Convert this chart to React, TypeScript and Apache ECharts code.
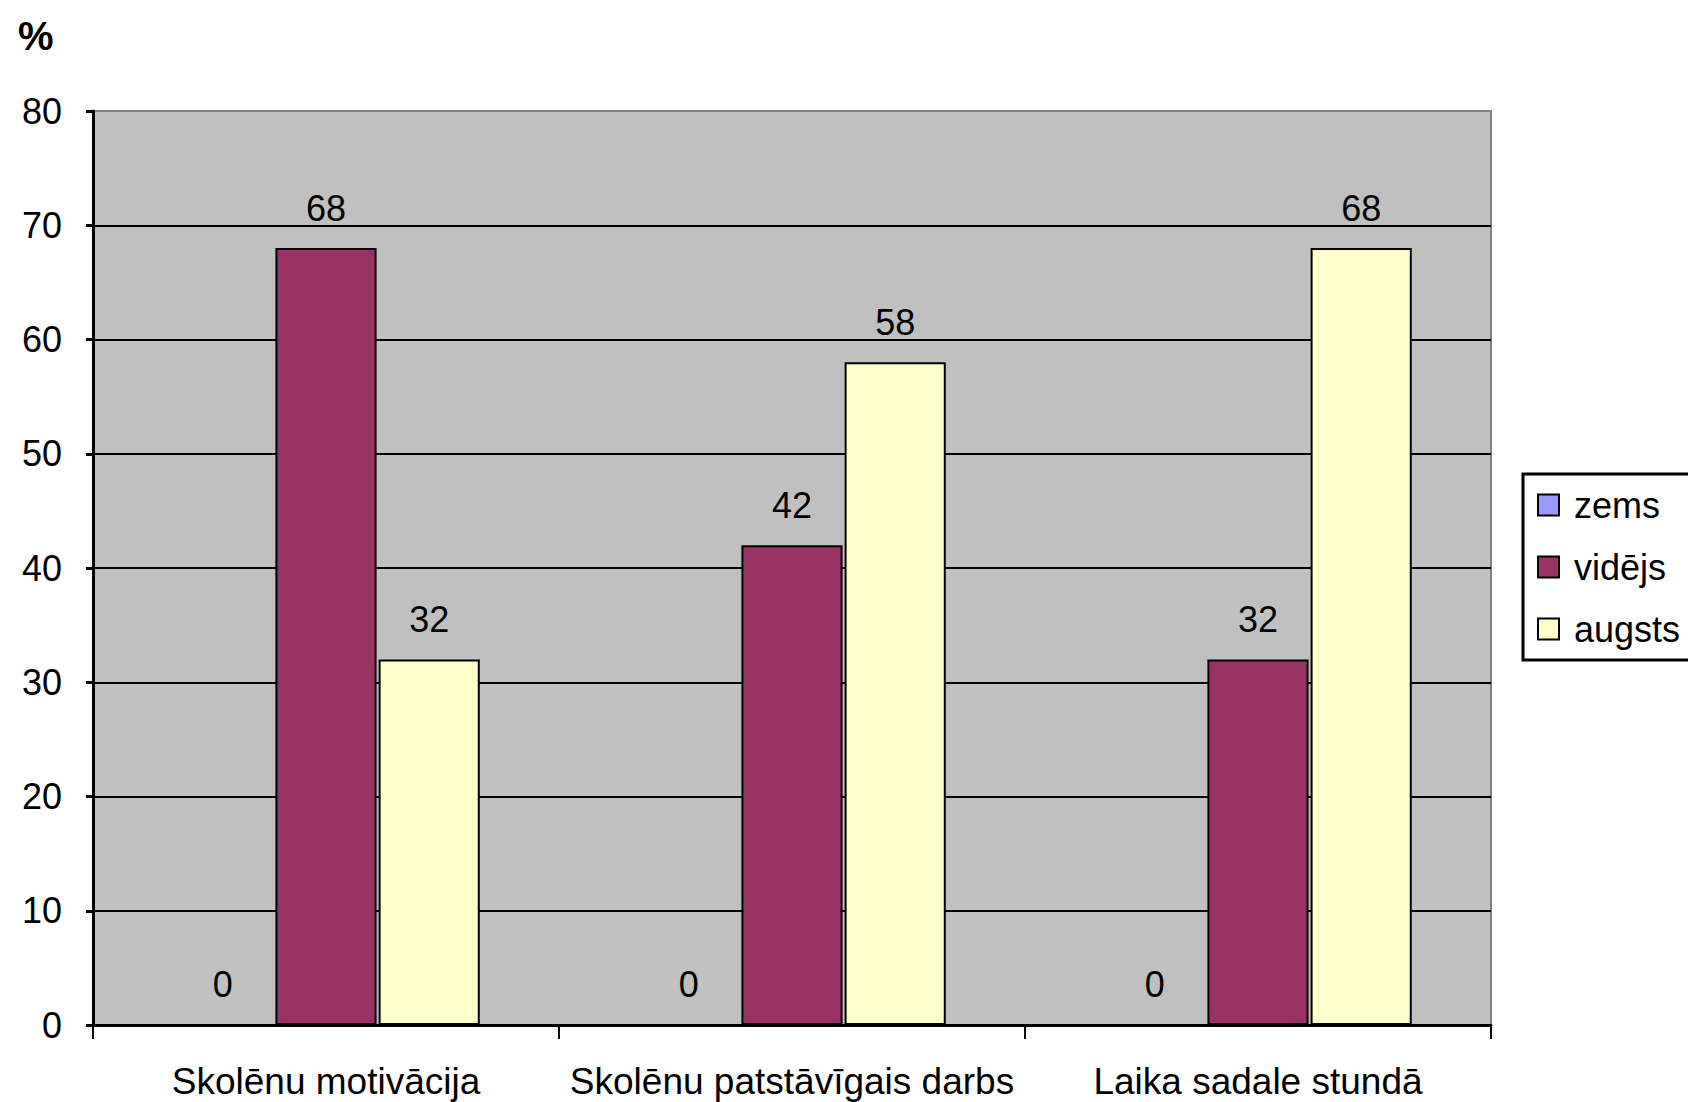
import React, { useEffect, useRef } from "react";
import * as echarts from "echarts";

const categories = ["Skolēnu motivācija", "Skolēnu patstāvīgais darbs", "Laika sadale stundā"];
const seriesNames = ["zems", "vidējs", "augsts"];
const zemsValues = [0, 0, 0];
const videjsValues = [68, 42, 32];
const augstsValues = [32, 58, 68];
const seriesColors = ["#9999FF", "#993366", "#FFFFCC"];
const yMin = 0;
const yMax = 80;
const yInterval = 10;

const FONT = "'Liberation Sans', Arial, sans-serif";

export default function App() {
  const ref = useRef<HTMLDivElement>(null);
  useEffect(() => {
    if (!ref.current) return;
    const chart = echarts.init(ref.current, null, { renderer: "svg" });
    const values = [zemsValues, videjsValues, augstsValues];
    const nLines = (yMax - yMin) / yInterval + 1;
    const splitColors: string[] = [];
    for (let i = 0; i < nLines; i++) splitColors.push(i === nLines - 1 ? "#808080" : "#000000");
    chart.setOption({
      animation: false,
      backgroundColor: "#ffffff",
      textStyle: { fontFamily: FONT },
      graphic: [
        {
          type: "text",
          left: 18,
          top: 16,
          style: { text: "%", fontSize: 40, fontWeight: "bold", fill: "#000", fontFamily: FONT },
        },
      ],
      legend: {
        orient: "vertical",
        left: 1523,
        top: 474,
        padding: [13, 20, 13, 14],
        borderColor: "#000",
        borderWidth: 3,
        backgroundColor: "#fff",
        itemWidth: 21,
        itemHeight: 21,
        itemGap: 26,
        icon: "rect",
        textStyle: { fontSize: 36, color: "#000", fontFamily: FONT, padding: [0, 0, 0, 10] },
        data: seriesNames.map((n, i) => ({
          name: n,
          itemStyle: { color: seriesColors[i], borderColor: "#000", borderWidth: 2 },
        })),
      },
      grid: {
        left: 93,
        right: 197,
        top: 111,
        bottom: 77,
        show: true,
        backgroundColor: "#C0C0C0",
        borderColor: "#808080",
        borderWidth: 2,
      },
      xAxis: {
        type: "category",
        data: categories,
        axisLine: { lineStyle: { color: "#000", width: 3 } },
        axisTick: { show: true, interval: 0, length: 14, lineStyle: { color: "#000", width: 2 } },
        axisLabel: { interval: 0, fontSize: 37, color: "#000", margin: 38, fontFamily: FONT },
      },
      yAxis: {
        type: "value",
        min: yMin,
        max: yMax,
        interval: yInterval,
        axisLine: { show: true, lineStyle: { color: "#000", width: 3 } },
        axisTick: { show: true, length: 7, lineStyle: { color: "#000", width: 3 } },
        axisLabel: { fontSize: 36, color: "#000", margin: 31, fontFamily: FONT },
        splitLine: { show: true, lineStyle: { color: splitColors, width: 2 } },
      },
      series: seriesNames.map((n, i) => ({
        name: n,
        type: "bar",
        data: values[i],
        barGap: "2%",
        barCategoryGap: "34%",
        itemStyle: { color: seriesColors[i], borderColor: "#000", borderWidth: 2 },
        label: {
          show: true,
          position: "top",
          distance: 22,
          fontSize: 36,
          color: "#000",
          fontFamily: FONT,
        },
      })),
    });
    return () => chart.dispose();
  }, []);
  return (
    <div
      ref={ref}
      style={{ position: "fixed", left: 0, top: 0, width: 1688, height: 1102 }}
    />
  );
}
